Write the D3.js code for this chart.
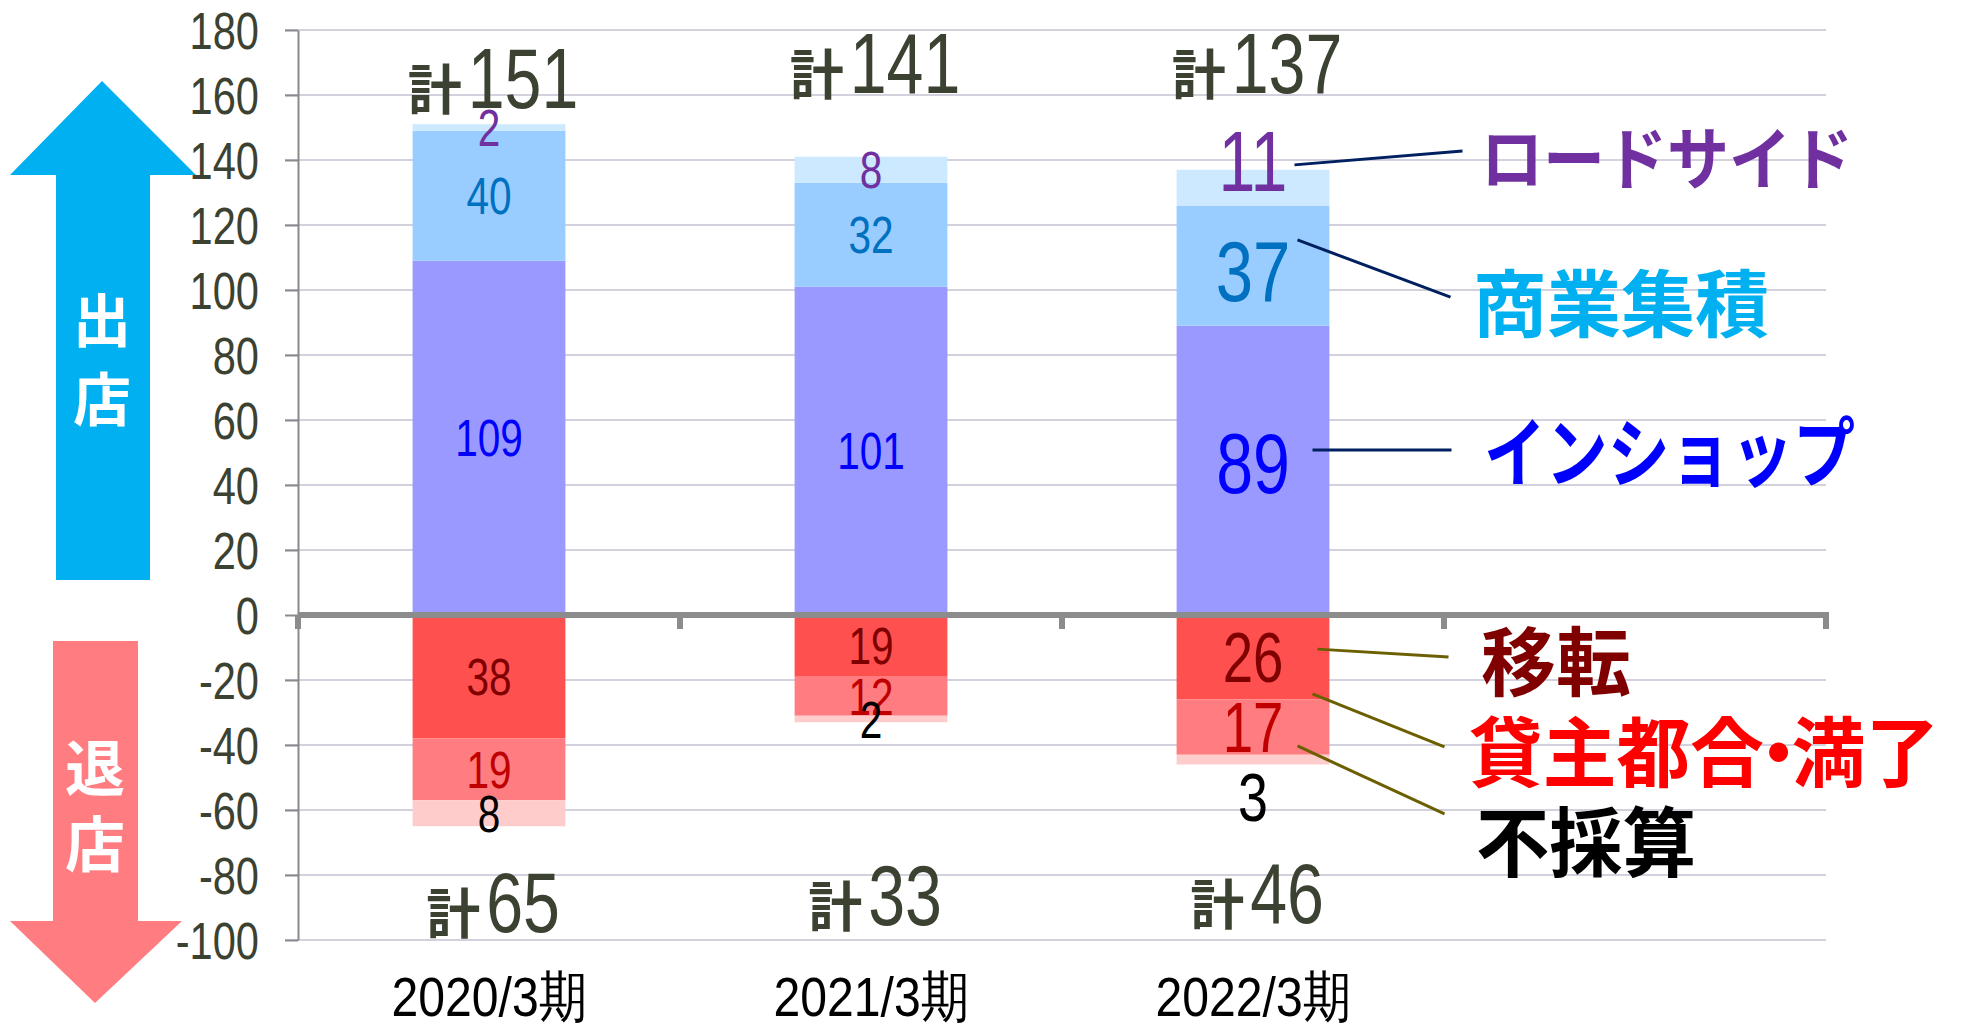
<!DOCTYPE html>
<html>
<head>
<meta charset="utf-8">
<script src="https://cdn.jsdelivr.net/npm/d3@7"></script>
<style>
  body { margin: 0; background: #fff; }
  svg { display: block; }
  .num { font-family: "Liberation Sans", Arial, sans-serif; }
  .jp { font-family: "Noto Sans CJK JP", sans-serif; font-weight: 700; }
</style>
</head>
<body>
<svg id="chart" width="1964" height="1024"></svg>
<script>
// Data
const periods = ['2020/3期', '2021/3期', '2022/3期'];
const inShop = [109, 101, 89];
const shoppingArea = [40, 32, 37];
const roadside = [2, 8, 11];
const relocation = [38, 19, 26];
const landlordExpiry = [19, 12, 17];
const unprofitable = [8, 2, 3];
const yTickValues = [-100, -80, -60, -40, -20, 0, 20, 40, 60, 80, 100, 120, 140, 160, 180];

// Series styles
const series = [
    { key: 'inShop', name: 'インショップ', values: inShop, sign: 1, fill: '#9999ff', text: '#0000ff' },
    { key: 'shoppingArea', name: '商業集積', values: shoppingArea, sign: 1, fill: '#99ccff', text: '#0070c0' },
    { key: 'roadside', name: 'ロードサイド', values: roadside, sign: 1, fill: '#cce9ff', text: '#7030a0' },
    { key: 'relocation', name: '移転', values: relocation, sign: -1, fill: '#ff5050', text: '#800000' },
    { key: 'landlordExpiry', name: '貸主都合・満了', values: landlordExpiry, sign: -1, fill: '#ff7c80', text: '#c00000' },
    { key: 'unprofitable', name: '不採算', values: unprofitable, sign: -1, fill: '#ffcccc', text: '#000000' }
];

const table = periods.map((p, i) => {
    const row = { period: p };
    series.forEach(s => { row[s.key] = s.sign * s.values[i]; });
    return row;
});

const stacked = d3.stack()
    .keys(series.map(s => s.key))
    .offset(d3.stackOffsetDiverging)(table);

const svg = d3.select('#chart');

// Scales
const x = d3.scaleBand()
    .domain([...periods, ''])
    .range([298, 1826])
    .paddingInner(0.6)
    .paddingOuter(0.3);

const y = d3.scaleLinear()
    .domain([-100, 180])
    .range([940, 30]);

const step = x.step();
const plotLeft = x.range()[0];
const plotRight = x.range()[1];
const NARROW = 0.78;

// condensed numeric text (the original font is narrow)
function narrowText(parent, px, baseline, txt, size, fill, anchor, sx) {
    return parent.append('text')
        .attr('class', 'num')
        .attr('transform', `translate(${px},${baseline}) scale(${sx || NARROW},1)`)
        .attr('text-anchor', anchor || 'middle')
        .attr('font-size', size)
        .attr('fill', fill)
        .text(txt);
}

// Arrows on the left
svg.append('path')
    .attr('d', 'M102,81 L196,175 L150,175 L150,580 L56,580 L56,175 L10,175 Z')
    .attr('fill', '#00b0f0');
svg.append('path')
    .attr('d', 'M53,641 L138,641 L138,921 L182,921 L95,1003 L10,921 L53,921 Z')
    .attr('fill', '#ff7c80');

[['出', 102, 320, 58], ['店', 102, 399, 58], ['退', 95, 768, 60], ['店', 95, 844, 60]].forEach(([t, cx, cy, fs]) => {
    svg.append('text').attr('class', 'jp')
        .attr('x', cx).attr('y', cy + 0.38 * fs)
        .attr('text-anchor', 'middle')
        .attr('font-size', fs).attr('font-weight', 500).attr('fill', '#fff')
        .text(t);
});

// Gridlines
svg.append('g')
    .selectAll('line')
    .data(yTickValues.filter(v => v !== 0))
    .enter()
    .append('line')
    .attr('x1', plotLeft - 13)
    .attr('x2', plotRight)
    .attr('y1', d => y(d))
    .attr('y2', d => y(d))
    .attr('stroke', '#d3d1de')
    .attr('stroke-width', 2);

// Y axis
const yAxis = svg.append('g')
    .attr('class', 'num')
    .attr('transform', `translate(${plotLeft},0)`)
    .call(d3.axisLeft(y).tickValues(yTickValues).tickFormat(d => String(d))
        .tickSize(13).tickSizeOuter(0).tickPadding(26));
yAxis.select('.domain').attr('stroke', '#8a8a8a').attr('stroke-width', 2);
yAxis.selectAll('.tick line').attr('stroke', '#8a8a8a').attr('stroke-width', 2);
yAxis.selectAll('.tick text')
    .attr('font-size', 52)
    .attr('fill', '#3b4231')
    .attr('x', -39 / 0.8)
    .attr('dy', '0.36em')
    .attr('transform', 'scale(0.8,1)');

// Bars
const seriesByKey = {};
series.forEach(s => { seriesByKey[s.key] = s; });

svg.append('g')
    .selectAll('g')
    .data(stacked)
    .enter()
    .append('g')
    .attr('fill', d => seriesByKey[d.key].fill)
    .selectAll('rect')
    .data(d => d)
    .enter()
    .append('rect')
    .attr('x', d => x(d.data.period))
    .attr('y', d => y(Math.max(d[0], d[1])))
    .attr('width', x.bandwidth())
    .attr('height', d => Math.abs(y(d[0]) - y(d[1])));

// Zero line and category ticks
svg.append('line')
    .attr('x1', plotLeft).attr('x2', plotRight + 3)
    .attr('y1', y(0)).attr('y2', y(0))
    .attr('stroke', '#8c8c8c').attr('stroke-width', 6);
svg.append('g')
    .selectAll('line')
    .data(d3.range(x.domain().length + 1))
    .enter()
    .append('line')
    .attr('x1', i => plotLeft + i * step)
    .attr('x2', i => plotLeft + i * step)
    .attr('y1', y(0))
    .attr('y2', y(0) + 14)
    .attr('stroke', '#8c8c8c')
    .attr('stroke-width', 6);

// Segment labels
const bigPeriod = periods.length - 1;
const labelStyle = {
    inShop: { size: 85, dy: -8 },
    shoppingArea: { size: 86, dy: 5 },
    roadside: { size: 85, dy: -27 },
    relocation: { size: 70, dy: 0 },
    landlordExpiry: { size: 70, dy: 0 },
    unprofitable: { size: 69, dy: 37 }
};

const labelLayer = svg.append('g');
stacked.forEach(layer => {
    const s = seriesByKey[layer.key];
    layer.forEach((d, i) => {
        const big = i === bigPeriod;
        const size = big ? labelStyle[layer.key].size : 52;
        const dy = big ? labelStyle[layer.key].dy : 0;
        const mid = y((d[0] + d[1]) / 2) + dy;
        narrowText(labelLayer, x(d.data.period) + x.bandwidth() / 2, mid + 0.358 * size,
            s.values[i], size, s.text);
    });
});

// Totals
const posTotals = periods.map((p, i) => inShop[i] + shoppingArea[i] + roadside[i]);
const negTotals = periods.map((p, i) => relocation[i] + landlordExpiry[i] + unprofitable[i]);
const topTotalAt = [156, 160.5, 160.5];
const bottomTotalAt = [-97.5, -95.4, -94.8];

function totalLabel(period, value, baseline) {
    const numSize = 85;
    const kanjiSize = 54;
    const gap = 6;
    const numW = String(value).length * 0.556 * numSize * NARROW;
    const w = kanjiSize + gap + numW;
    const left = x(period) + x.bandwidth() / 2 - w / 2 + 4;
    svg.append('text')
        .attr('class', 'jp')
        .attr('x', left)
        .attr('y', baseline + 2)
        .attr('font-size', kanjiSize)
        .attr('font-weight', 600)
        .attr('fill', '#3b4231')
        .text('計');
    narrowText(svg, left + kanjiSize + gap, baseline, value, numSize, '#3b4231', 'start');
}
periods.forEach((p, i) => {
    totalLabel(p, posTotals[i], y(topTotalAt[i]));
    totalLabel(p, negTotals[i], y(bottomTotalAt[i]));
});

// Category labels
periods.forEach(p => {
    narrowText(svg, x(p) + x.bandwidth() / 2, 1016, p, 56, '#000', 'middle', 0.86);
});

// Callouts next to the last bar
const lastX = x(periods[bigPeriod]) + x.bandwidth() / 2;
const callouts = [
    { key: 'roadside', color: '#7030a0', line: '#002060', size: 68, textX: 228, textLen: 372, textAt: 140.6, from: [41.5, 138.5], to: [209.5, 142.8] },
    { key: 'shoppingArea', color: '#00b0f0', line: '#002060', size: 73, textX: 220, textLen: 296, textAt: 96, from: [44.5, 115.4], to: [197.5, 97.8] },
    { key: 'inShop', color: '#0000ff', line: '#002060', size: 76, textX: 231, textLen: 371, textAt: 50.2, from: [59.5, 50.8], to: [198.5, 50.8] },
    { key: 'relocation', color: '#800000', line: '#6b5f00', size: 75, textX: 228, textLen: 150, textAt: -14.2, from: [64.5, -10.5], to: [195.5, -12.9] },
    { key: 'landlordExpiry', color: '#ff0000', line: '#6b5f00', size: 76, textX: 216, textLen: 0, textAt: -42.2, from: [59.5, -24.3], to: [191.5, -40.6] },
    { key: 'unprofitable', color: '#000000', line: '#6b5f00', size: 76, textX: 223, textLen: 220, textAt: -69.8, from: [44.5, -40.3], to: [191.5, -61.2] }
];

callouts.forEach(c => {
    svg.append('line')
        .attr('x1', lastX + c.from[0]).attr('y1', y(c.from[1]))
        .attr('x2', lastX + c.to[0]).attr('y2', y(c.to[1]))
        .attr('stroke', c.line)
        .attr('stroke-width', 3);
    const name = seriesByKey[c.key].name;
    const t = svg.append('text')
        .attr('class', 'jp')
        .attr('font-size', c.size)
        .attr('fill', c.color);
    if (c.textLen) {
        t.attr('x', lastX + c.textX)
            .attr('y', y(c.textAt) + 0.38 * c.size)
            .attr('textLength', c.textLen)
            .attr('lengthAdjust', 'spacingAndGlyphs')
            .text(name);
    } else {
        // the middle dot is set narrow in the original
        const parts = name.split('・');
        t.attr('transform', `translate(${lastX + c.textX},${y(c.textAt) + 0.38 * c.size}) scale(0.97,1)`);
        t.append('tspan').text(parts[0]);
        t.append('tspan').attr('dx', '-0.3em').text('・');
        t.append('tspan').attr('dx', '-0.32em').text(parts[1]);
    }
});
</script>
</body>
</html>
